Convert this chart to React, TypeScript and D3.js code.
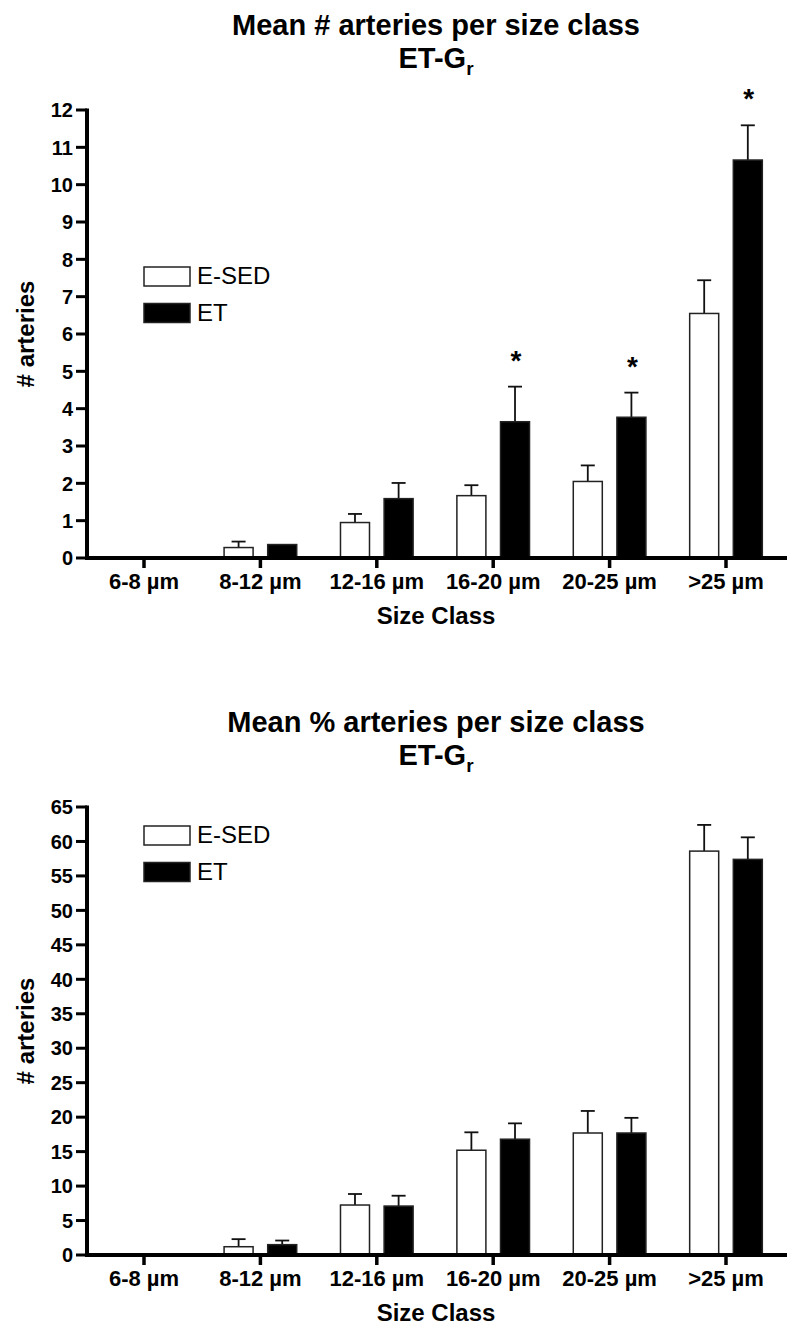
import React from "react";
import * as d3 from "d3";

const categories = ["6-8 µm", "8-12 µm", "12-16 µm", "16-20 µm", "20-25 µm", ">25 µm"];
const seriesNames = ["E-SED", "ET"];

const countSedMean = [0, 0.28, 0.95, 1.67, 2.05, 6.55];
const countSedErr = [0, 0.16, 0.23, 0.28, 0.43, 0.89];
const countEtMean = [0, 0.36, 1.59, 3.65, 3.77, 10.66];
const countEtErr = [0, 0, 0.42, 0.94, 0.66, 0.93];
const countSig = [false, false, false, true, true, true];
const countTicks = d3.range(0, 13, 1);

const pctSedMean = [0, 1.2, 7.25, 15.2, 17.7, 58.6];
const pctSedErr = [0, 1.1, 1.6, 2.6, 3.2, 3.8];
const pctEtMean = [0, 1.5, 7.1, 16.8, 17.7, 57.4];
const pctEtErr = [0, 0.6, 1.5, 2.3, 2.2, 3.2];
const pctSig = [false, false, false, false, false, false];
const pctTicks = d3.range(0, 66, 5);

const FONT = "'Liberation Sans', Arial, Helvetica, sans-serif";

type ChartProps = {
  dy: number;
  title: string;
  yMax: number;
  ticks: number[];
  sedMean: number[];
  sedErr: number[];
  etMean: number[];
  etErr: number[];
  sig: boolean[];
  legendY: number;
};

function Chart(p: ChartProps) {
  const left = 87;
  const right = 787;
  const top = 110;
  const bottom = 558;
  const x0 = d3
    .scaleBand<string>()
    .domain(categories)
    .range([85.8, 784.2])
    .paddingInner(0.376)
    .paddingOuter(0.188);
  const x1 = d3
    .scaleBand<string>()
    .domain(seriesNames)
    .range([0, x0.bandwidth()])
    .paddingInner(0.335);
  const y = d3.scaleLinear().domain([0, p.yMax]).range([bottom, top]);

  const bars: { cat: string; s: string; v: number; e: number; sig: boolean }[] = [];
  categories.forEach((c, i) => {
    bars.push({ cat: c, s: "E-SED", v: p.sedMean[i], e: p.sedErr[i], sig: false });
    bars.push({ cat: c, s: "ET", v: p.etMean[i], e: p.etErr[i], sig: p.sig[i] });
  });
  const cx = (c: string) => (x0(c) as number) + x0.bandwidth() / 2;
  const bw = x1.bandwidth();

  return (
    <g transform={`translate(0,${p.dy})`} fontFamily={FONT}>
      <text x={436} y={35} textAnchor="middle" fontSize={29} fontWeight="bold">
        {p.title}
      </text>
      <text x={436} y={68} textAnchor="middle" fontSize={29} fontWeight="bold">
        ET-G
        <tspan fontSize={19} dy={7}>r</tspan>
      </text>

      {bars
        .filter((b) => b.v > 0)
        .map((b, i) => {
          const bx = (x0(b.cat) as number) + (x1(b.s) as number);
          const ex = bx + bw / 2;
          const yTop = y(b.v);
          const yErr = y(b.v + b.e);
          return (
            <g key={i}>
              {b.e > 0 && (
                <g stroke="#111" strokeWidth={1.8}>
                  <line x1={ex} x2={ex} y1={yTop} y2={yErr} />
                  <line x1={ex - 7} x2={ex + 7} y1={yErr} y2={yErr} />
                </g>
              )}
              <rect
                x={bx}
                y={yTop}
                width={bw}
                height={bottom - yTop}
                fill={b.s === "ET" ? "#000" : "#fff"}
                stroke="#222"
                strokeWidth={1.5}
              />
              {b.sig && (
                <text x={ex + 1} y={yErr - 17} textAnchor="middle" fontSize={28} fontWeight="bold">
                  *
                </text>
              )}
            </g>
          );
        })}

      {/* y axis */}
      <line x1={left} x2={left} y1={top - 1.5} y2={bottom + 2} stroke="#000" strokeWidth={4} />
      {p.ticks.map((t) => (
        <g key={t}>
          <line x1={76} x2={left} y1={y(t)} y2={y(t)} stroke="#000" strokeWidth={3} />
          <text x={73} y={y(t)} dy="0.36em" textAnchor="end" fontSize={20} fontWeight="bold">
            {t}
          </text>
        </g>
      ))}
      {/* x axis */}
      <line x1={left} x2={right} y1={bottom} y2={bottom} stroke="#000" strokeWidth={4} />
      {categories.map((c) => (
        <g key={c}>
          <line x1={cx(c)} x2={cx(c)} y1={bottom} y2={bottom + 10} stroke="#000" strokeWidth={3.5} />
          <text x={cx(c)} y={589} textAnchor="middle" fontSize={22} fontWeight="bold">
            {c}
          </text>
        </g>
      ))}
      <text x={436} y={624} textAnchor="middle" fontSize={24} fontWeight="bold">
        Size Class
      </text>
      <text
        transform={`translate(34,${(top + bottom) / 2}) rotate(-90)`}
        textAnchor="middle"
        fontSize={24}
        fontWeight="bold"
      >
        # arteries
      </text>

      {/* legend */}
      {seriesNames.map((s, i) => (
        <g key={s} transform={`translate(144,${p.legendY + i * 36.5})`}>
          <rect x={0} y={0} width={46} height={19} fill={s === "ET" ? "#000" : "#fff"} stroke="#222" strokeWidth={1.5} />
          <text x={53} y={17} fontSize={24}>
            {s}
          </text>
        </g>
      ))}
    </g>
  );
}

export default function App() {
  return (
    <svg
      width={795}
      height={1333}
      style={{ position: "absolute", left: 0, top: 0, background: "#fff" }}
    >
      <rect x={0} y={0} width={795} height={1333} fill="#fff" />
      <Chart
        dy={0}
        title="Mean # arteries per size class"
        yMax={12}
        ticks={countTicks}
        sedMean={countSedMean}
        sedErr={countSedErr}
        etMean={countEtMean}
        etErr={countEtErr}
        sig={countSig}
        legendY={267}
      />
      <Chart
        dy={697}
        title="Mean % arteries per size class"
        yMax={65}
        ticks={pctTicks}
        sedMean={pctSedMean}
        sedErr={pctSedErr}
        etMean={pctEtMean}
        etErr={pctEtErr}
        sig={pctSig}
        legendY={129}
      />
    </svg>
  );
}
